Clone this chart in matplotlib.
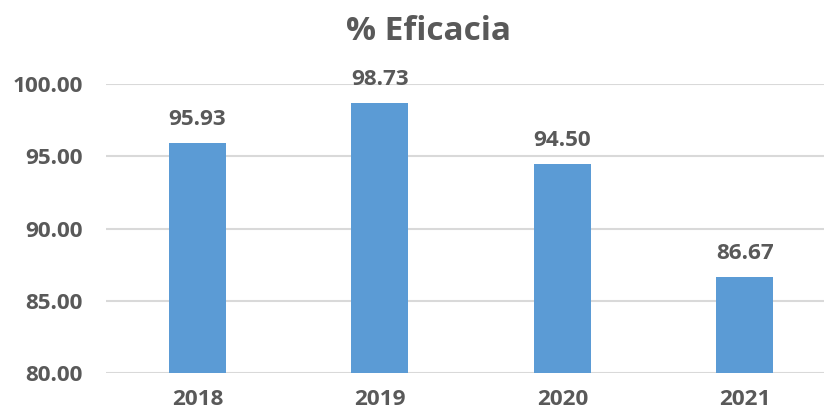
import matplotlib
matplotlib.use("Agg")
import matplotlib.pyplot as plt

categories = ["2018", "2019", "2020", "2021"]
values = [95.93, 98.73, 94.50, 86.67]
yticks = [80, 85, 90, 95, 100]

TEXT = "#595959"
BAR = "#5B9BD5"
GRID = "#D9D9D9"
plt.rcParams['font.family'] = ['Open Sans', 'DejaVu Sans']

fig = plt.figure(figsize=(8.24, 4.15), dpi=100)
ax = fig.add_axes([106.3/824, 42.3/415, 729.6/824, 288.4/415])
x = list(range(len(categories)))
bars = ax.bar(x, values, width=0.3125, color=BAR, zorder=3)
ax.set_xlim(-0.5, len(categories) - 0.5)
ax.set_ylim(80, 100)
ax.set_yticks(yticks)
ax.set_yticklabels([f"{v:.2f}" for v in yticks])
ax.set_xticks(x)
ax.set_xticklabels(categories)
for lab in ax.get_xticklabels() + ax.get_yticklabels():
    lab.set_fontweight('bold')
    lab.set_color(TEXT)
    lab.set_fontsize(16.2)
ax.tick_params(axis='y', length=0, pad=17)
ax.tick_params(axis='x', length=0, pad=12)
ax.grid(axis='y', color=GRID, linewidth=1.5, zorder=0)
for s in ax.spines.values():
    s.set_visible(False)
for xi, v in zip(x, values):
    ax.annotate(f"{v:.2f}", (xi, v), xytext=(0, 9), textcoords='offset points',
                ha='center', va='bottom', fontsize=16.2, fontweight='bold', color=TEXT)
fig.text(428/824, 1 - 31/415, "% Eficacia", ha='center', va='center',
         fontsize=24, fontweight='bold', color=TEXT)
fig.savefig("out.png", dpi=100)
